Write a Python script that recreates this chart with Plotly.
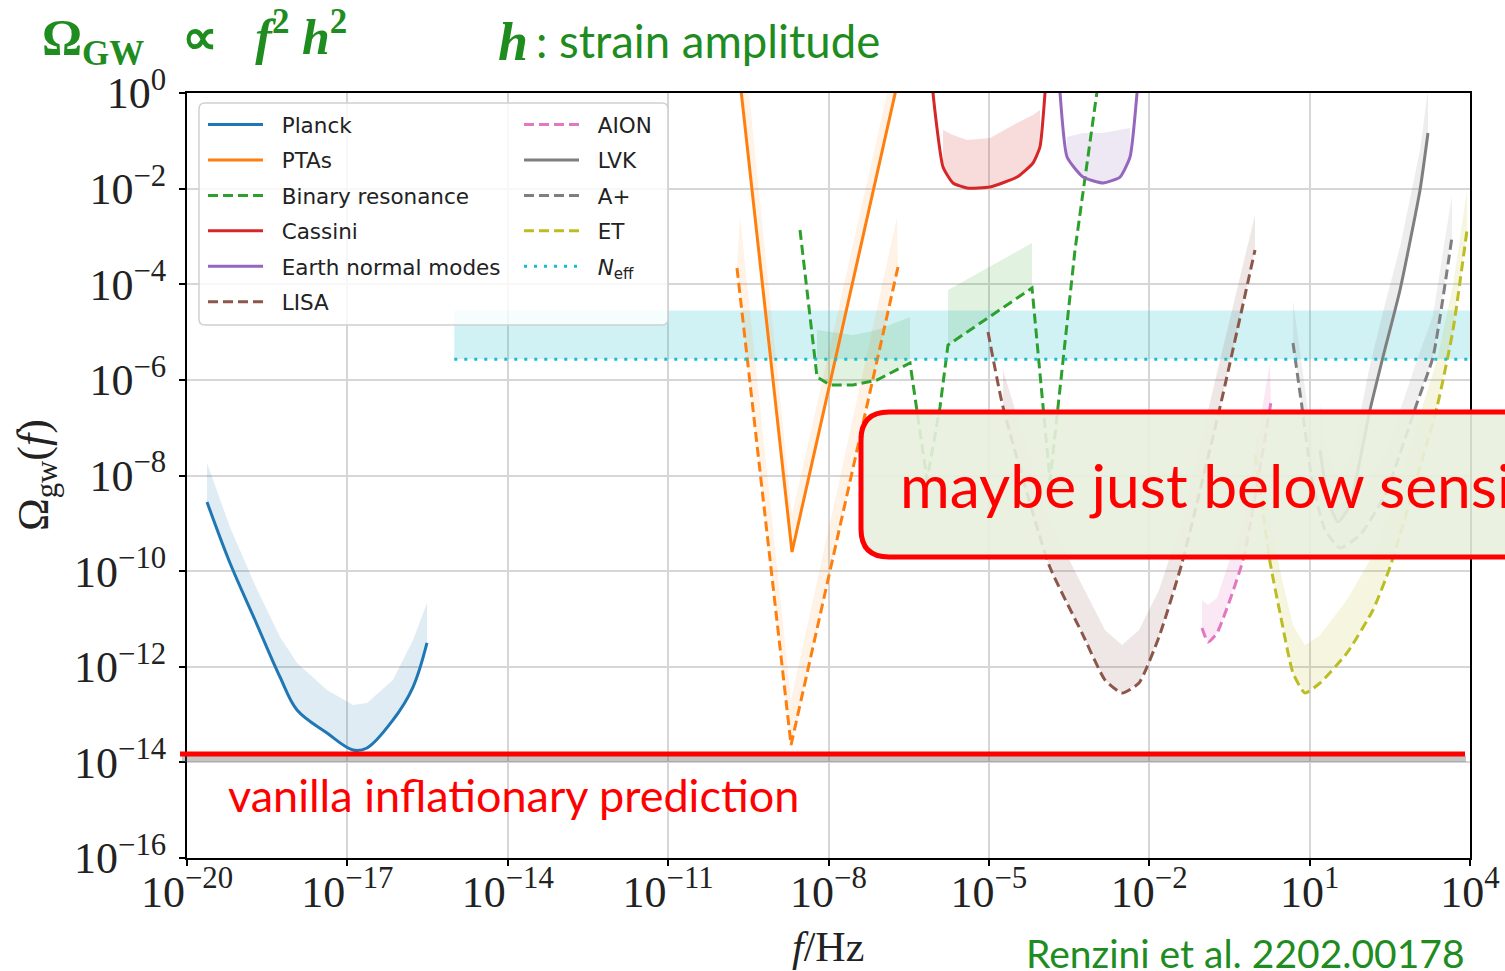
import numpy as np
import plotly.graph_objects as go

# ---------------- data: log10(f / Hz), log10(Omega_gw) ----------------
planck_logf = [-19.626, -19.196, -18.728, -18.260, -17.942, -17.381, -16.895, -16.633, -16.147, -15.772, -15.511]
planck_logom = [-8.554, -9.830, -11.022, -12.214, -12.904, -13.386, -13.741, -13.699, -13.114, -12.424, -11.503]
planck_logom_hi = [-7.739, -9.080, -10.290, -11.378, -11.922, -12.486, -12.800, -12.758, -12.277, -11.441, -10.667]

pta_logf = [-9.730, -8.683, -6.550]
pta_logom = [1.004, -9.600, 1.004]
pta_band_logf = [-9.581, -8.683, -6.700]
pta_band_logom = [1.004, -8.826, 1.004]

ska_logf = [-9.712, -8.701, -6.700]
ska_logom = [-3.660, -13.637, -3.639]
ska_band_logf = [-9.655, -8.701, -6.718]
ska_band_logom = [-2.594, -12.695, -2.594]

br_logf = [-8.533, -8.215, -7.972, -7.542, -7.093, -6.475, -6.157, -5.914, -5.765, -4.193, -3.857, -3.389, -2.921]
br_logom = [-2.865, -5.940, -6.107, -6.107, -6.003, -5.647, -8.094, -6.567, -5.271, -4.078, -8.115, -3.284, 0.481]
br_band1_logf = [-8.215, -7.542, -7.093, -6.475]
br_band1_logom = [-4.957, -5.061, -4.957, -4.685]
br_band2_logf = [-5.765, -4.193]
br_band2_logom = [-4.120, -3.137]

cassini_logf = [-6.083, -6.045, -5.858, -5.671, -5.409, -4.979, -4.474, -4.175, -4.044, -3.950, -3.913]
cassini_logom = [0.690, 0.0, -1.548, -1.882, -1.987, -1.966, -1.757, -1.464, -1.129, 0.0, 0.690]
cassini_band_logf = [-5.858, -5.671, -5.409, -4.979, -4.474, -4.175, -4.044]
cassini_band_logom = [-0.774, -0.878, -0.983, -0.941, -0.627, -0.460, -0.356]

enm_logf = [-3.707, -3.669, -3.538, -3.239, -2.865, -2.547, -2.360, -2.229, -2.192]
enm_logom = [0.690, 0.0, -1.339, -1.757, -1.882, -1.757, -1.339, 0.0, 0.690]
enm_band_logf = [-3.538, -3.239, -2.865, -2.547, -2.360]
enm_band_logom = [-0.920, -0.837, -0.837, -0.774, -0.732]

lisa_logf = [-5.016, -4.736, -3.875, -3.258, -2.828, -2.510, -2.192, -1.818, -1.387, -0.676, -0.022]
lisa_logom = [-4.999, -6.567, -9.872, -11.294, -12.277, -12.549, -12.340, -11.378, -9.830, -6.567, -3.284]
lisa_band_logf = [-4.736, -3.875, -3.258, -2.828, -2.510, -2.192, -1.818, -1.387, -0.676, -0.022]
lisa_band_logom = [-5.793, -8.931, -10.290, -11.231, -11.545, -11.231, -10.395, -8.931, -5.584, -2.552]

aion_logf = [-1.013, -0.901, -0.733, -0.246, 0.277]
aion_logom = [-11.190, -11.482, -11.294, -9.767, -6.463]
aion_band_logf = [-1.013, -0.901, -0.733, -0.246, 0.258]
aion_band_logom = [-10.604, -10.708, -10.562, -8.931, -5.647]

lvk_logf = [1.194, 1.344, 1.531, 1.755, 1.942, 2.129, 2.372, 2.691, 3.065, 3.214]
lvk_logom = [-7.467, -8.512, -8.973, -8.617, -7.676, -6.630, -5.522, -4.120, -2.029, -0.837]
lvk_band_logom = [-6.525, -7.571, -8.031, -7.676, -6.735, -5.689, -4.580, -3.221, -1.192, 0.063]

aplus_logf = [0.689, 0.857, 1.044, 1.288, 1.568, 1.942, 2.410, 3.009, 3.308, 3.663]
aplus_logom = [-5.229, -6.567, -8.094, -9.140, -9.516, -9.244, -8.408, -6.484, -5.522, -3.012]
aplus_band_logom = [-4.329, -5.689, -7.258, -8.303, -8.617, -8.408, -7.571, -5.584, -4.643, -2.133]

et_logf = [-0.022, 0.259, 0.446, 0.689, 0.913, 1.194, 1.699, 2.185, 2.504, 3.383, 3.682, 3.944]
et_logom = [-7.571, -9.809, -10.876, -12.131, -12.549, -12.340, -11.712, -10.813, -9.914, -6.567, -4.957, -2.865]
et_band_logom = [-6.839, -8.931, -9.980, -11.130, -11.550, -11.340, -10.600, -9.660, -8.720, -5.580, -4.020, -2.030]

neff_logf = [-15.0, 4.0]
neff_logom = [-5.57, -5.57]
neff_band_logom = [-4.55, -4.55]

xtick_exp = [-20, -17, -14, -11, -8, -5, -2, 1, 4]
ytick_exp = [0, -2, -4, -6, -8, -10, -12, -14, -16]

# ---------------- layout helpers ----------------
W, H = 1505, 971
L, R, T, B = 187, 1470, 93, 858


def px(x):
    return (x - L) / (R - L)


def py(y):
    return (B - y) / (B - T)


C = dict(blue='#1f77b4', orange='#ff7f0e', green='#2ca02c', red='#d62728', purple='#9467bd',
         brown='#8c564b', pink='#e377c2', gray='#7f7f7f', olive='#bcbd22', cyan='#17becf')


def rgba(hexc, a):
    h = hexc.lstrip('#')
    return 'rgba(%d,%d,%d,%.3f)' % (int(h[0:2], 16), int(h[2:4], 16), int(h[4:6], 16), a)


fig = go.Figure()


def band(hi_f, hi_om, lo_f, lo_om, color, a=0.16):
    xs = list(hi_f) + list(lo_f)[::-1]
    ys = list(hi_om) + list(lo_om)[::-1]
    fig.add_trace(go.Scatter(x=np.power(10.0, xs), y=np.power(10.0, ys), mode='lines', fill='toself',
                             fillcolor=rgba(color, a), line=dict(width=0), hoverinfo='skip',
                             showlegend=False))


DASH = '10px,5px'
DOT = '3px,7px'
SP = '\u00a0\u00a0'


def curve(lf, lo, color, dash, name, legend='legend', shape='spline', smooth=0.5, show=True):
    fig.add_trace(go.Scatter(x=np.power(10.0, lf), y=np.power(10.0, lo), mode='lines', name=SP + name,
                             line=dict(color=color, width=3, dash=dash, shape=shape, smoothing=smooth),
                             legend=legend, showlegend=show, legendgroup=name))


# bands
band(neff_logf, neff_band_logom, neff_logf, neff_logom, C['cyan'], 0.2)
band(planck_logf, planck_logom_hi, planck_logf, planck_logom, C['blue'], 0.14)
band(pta_band_logf, pta_band_logom, pta_logf, pta_logom, C['orange'], 0.10)
band(ska_band_logf, ska_band_logom, ska_logf, ska_logom, C['orange'], 0.10)
band(br_band1_logf, br_band1_logom, br_logf[1:6], br_logom[1:6], C['green'], 0.14)
band(br_band2_logf, br_band2_logom, br_logf[8:10], br_logom[8:10], C['green'], 0.14)
band(cassini_band_logf, cassini_band_logom, cassini_logf[2:9], cassini_logom[2:9], C['red'], 0.16)
band(enm_band_logf, enm_band_logom, enm_logf[2:7], enm_logom[2:7], C['purple'], 0.16)
band(lisa_band_logf, lisa_band_logom, lisa_logf[1:], lisa_logom[1:], C['brown'], 0.14)
band(aion_band_logf, aion_band_logom, aion_logf, aion_logom, C['pink'], 0.16)
band(lvk_logf, lvk_band_logom, lvk_logf, lvk_logom, C['gray'], 0.14)
band(aplus_logf, aplus_band_logom, aplus_logf, aplus_logom, C['gray'], 0.12)
band(et_logf, et_band_logom, et_logf, et_logom, C['olive'], 0.14)

# curves - first legend column
curve(planck_logf, planck_logom, C['blue'], 'solid', 'Planck', smooth=1.0)
curve(pta_logf, pta_logom, C['orange'], 'solid', 'PTAs', shape='linear')
curve(br_logf, br_logom, C['green'], DASH, 'Binary resonance', shape='linear')
curve(cassini_logf, cassini_logom, C['red'], 'solid', 'Cassini')
curve(enm_logf, enm_logom, C['purple'], 'solid', 'Earth normal modes')
curve(lisa_logf, lisa_logom, C['brown'], DASH, 'LISA')
curve(ska_logf, ska_logom, C['orange'], DASH, 'SKA', shape='linear', show=False)
# second legend column
curve(aion_logf, aion_logom, C['pink'], DASH, 'AION', legend='legend2')
curve(lvk_logf, lvk_logom, C['gray'], 'solid', 'LVK', legend='legend2')
curve(aplus_logf, aplus_logom, C['gray'], DASH, 'A+', legend='legend2')
curve(et_logf, et_logom, C['olive'], DASH, 'ET', legend='legend2')
curve(neff_logf, neff_logom, C['cyan'], DOT, '<i>N</i><sub>eff</sub>', legend='legend2', shape='linear')


def sup(e):
    return '10<sup>%s</sup>' % (str(e).replace('-', '\u2212'))


axis_common = dict(type='log', showline=True, linecolor='black', linewidth=2, mirror=True,
                   ticks='outside', ticklen=6, tickwidth=1.5, tickcolor='black',
                   showgrid=True, gridcolor='#d6d6d6', gridwidth=1.5, zeroline=False,
                   tickfont=dict(family='Liberation Serif', size=44, color='#222'),
                   automargin=False)

fig.update_xaxes(range=[-20, 4], tickvals=[10.0 ** e for e in xtick_exp],
                 ticktext=[sup(e) for e in xtick_exp], ticklabelstandoff=-12, **axis_common)
fig.update_yaxes(range=[-16, 0], tickvals=[10.0 ** e for e in ytick_exp],
                 ticktext=[sup(e) for e in ytick_exp], ticklabelstandoff=4, **axis_common)

legend_font = dict(family='DejaVu Sans', size=21.5, color='#222')
fig.update_layout(
    width=W, height=H, margin=dict(l=L, r=W - R, t=T, b=H - B),
    paper_bgcolor='white', plot_bgcolor='white',
    legend=dict(x=px(203), y=py(104), xanchor='left', yanchor='top', bgcolor='rgba(0,0,0,0)',
                font=legend_font, itemwidth=55, tracegroupgap=4.5, traceorder='grouped'),
    legend2=dict(x=px(519), y=py(104), xanchor='left', yanchor='top', bgcolor='rgba(0,0,0,0)',
                 font=legend_font, itemwidth=55, tracegroupgap=4.5, traceorder='grouped'),
)


def rrect_path(x0, y0, x1, y1, r):
    pts = [('M', [(x0 + r, y0)]), ('L', [(x1 - r, y0)]), ('Q', [(x1, y0), (x1, y0 + r)]),
           ('L', [(x1, y1 - r)]), ('Q', [(x1, y1), (x1 - r, y1)]), ('L', [(x0 + r, y1)]),
           ('Q', [(x0, y1), (x0, y1 - r)]), ('L', [(x0, y0 + r)]), ('Q', [(x0, y0), (x0 + r, y0)])]
    s = ''
    for cmd, ps in pts:
        s += cmd + ' ' + ' '.join('%.5f,%.5f' % (px(a), py(b)) for a, b in ps) + ' '
    return s + 'Z'


shapes = [
    # legend frame
    dict(type='path', xref='paper', yref='paper', path=rrect_path(199, 103, 668, 325, 6),
         fillcolor='rgba(255,255,255,0.8)', line=dict(color='#d0d0d0', width=1.5), layer='above'),
    # red line shadow + line
    dict(type='line', xref='paper', yref='paper', x0=px(182), x1=px(1466), y0=py(759), y1=py(759),
         line=dict(color='rgba(90,90,90,0.35)', width=6), layer='above'),
    dict(type='line', xref='paper', yref='paper', x0=px(180), x1=px(1465), y0=py(754), y1=py(754),
         line=dict(color='#ff0000', width=5), layer='above'),
    # callout box
    dict(type='path', xref='paper', yref='paper', path=rrect_path(861, 412, 1600, 557, 28),
         fillcolor='rgba(233,240,222,0.9)', line=dict(color='#ff0000', width=5), layer='above'),
]
fig.update_layout(shapes=shapes)

GREEN = '#1f8c1f'
NB = '\u00a0'
ann = [
    dict(text='<b>\u03a9<sub>GW</sub>' + NB * 2 + ' \u221d ' + NB * 2 + '<i>f</i><sup>2</sup>' + NB + '<i>h</i><sup>2</sup></b>',
         x=px(40), y=py(37), xanchor='left', yanchor='middle',
         font=dict(family='Liberation Serif', size=50, color=GREEN)),
    dict(text='<b><i>h</i></b>', x=px(496), y=py(42), xanchor='left', yanchor='middle',
         font=dict(family='Liberation Serif', size=54, color=GREEN)),
    dict(text=': strain amplitude', x=px(534), y=py(40), xanchor='left', yanchor='middle',
         font=dict(family='Lato', size=45.5, color=GREEN)),
    dict(text='vanilla inflationary prediction', x=px(226), y=py(795), xanchor='left', yanchor='middle',
         font=dict(family='Lato', size=45, color='#ff0000')),
    dict(text='maybe just below sensitivity', x=px(898), y=py(485), xanchor='left', yanchor='middle',
         font=dict(family='Lato', size=60.5, color='#ff0000')),
    dict(text='Renzini et al. 2202.00178', x=px(1024), y=py(953), xanchor='left', yanchor='middle',
         font=dict(family='Lato', size=39, color=GREEN)),
    dict(text='<i>f</i>/Hz', x=px(828), y=py(947), xanchor='center', yanchor='middle',
         font=dict(family='Liberation Serif', size=42, color='#222')),
    dict(text='\u03a9<sub>gw</sub>(<i>f</i>)', x=px(36), y=py(475), xanchor='center', yanchor='middle',
         textangle=-90, font=dict(family='Liberation Serif', size=44, color='#222')),
]
for a in ann:
    a.update(xref='paper', yref='paper', showarrow=False)
fig.update_layout(annotations=ann)

fig.write_html('out.html')
